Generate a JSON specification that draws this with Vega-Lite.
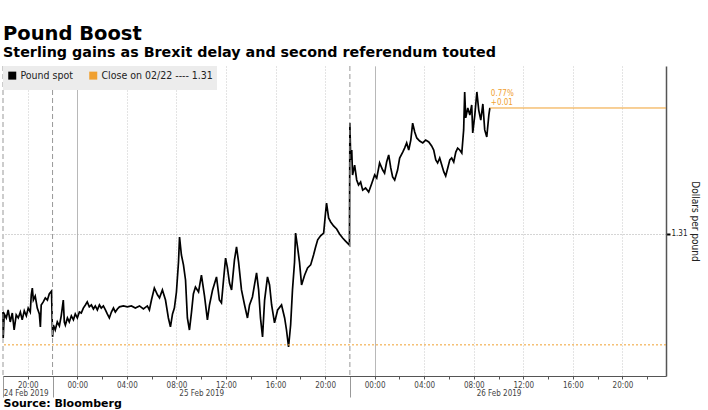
{
  "$schema": "https://vega.github.io/schema/vega-lite/v6.json",
  "width": 663,
  "height": 310,
  "autosize": "none",
  "padding": {"left": 3, "top": 66, "right": 42, "bottom": 34},
  "background": "white",
  "title": {
    "text": "Pound Boost",
    "subtitle": "Sterling gains as Brexit delay and second referendum touted",
    "anchor": "start",
    "frame": "group",
    "font": "DejaVu Sans",
    "fontWeight": "bold",
    "fontSize": 19.5,
    "color": "black",
    "subtitleFont": "DejaVu Sans",
    "subtitleFontWeight": "bold",
    "subtitleFontSize": 14.3,
    "subtitleColor": "black",
    "subtitlePadding": 2,
    "offset": 4
  },
  "config": {"view": {"stroke": null}},
  "datasets": {
    "spot": [
      {"t": "2019-02-24T18:00:00Z", "v": 1.30669},
      {"t": "2019-02-24T18:01:00Z", "v": 1.30559},
      {"t": "2019-02-24T18:06:00Z", "v": 1.30661},
      {"t": "2019-02-24T18:16:00Z", "v": 1.30644},
      {"t": "2019-02-24T18:25:00Z", "v": 1.30678},
      {"t": "2019-02-24T18:35:00Z", "v": 1.30627},
      {"t": "2019-02-24T18:45:00Z", "v": 1.30665},
      {"t": "2019-02-24T18:54:00Z", "v": 1.30593},
      {"t": "2019-02-24T19:04:00Z", "v": 1.30657},
      {"t": "2019-02-24T19:14:00Z", "v": 1.30644},
      {"t": "2019-02-24T19:24:00Z", "v": 1.30669},
      {"t": "2019-02-24T19:33:00Z", "v": 1.30636},
      {"t": "2019-02-24T19:43:00Z", "v": 1.30674},
      {"t": "2019-02-24T19:53:00Z", "v": 1.30653},
      {"t": "2019-02-24T20:02:00Z", "v": 1.30686},
      {"t": "2019-02-24T20:12:00Z", "v": 1.30669},
      {"t": "2019-02-24T20:17:00Z", "v": 1.30742},
      {"t": "2019-02-24T20:22:00Z", "v": 1.30771},
      {"t": "2019-02-24T20:27:00Z", "v": 1.30720},
      {"t": "2019-02-24T20:36:00Z", "v": 1.30737},
      {"t": "2019-02-24T20:46:00Z", "v": 1.30686},
      {"t": "2019-02-24T20:56:00Z", "v": 1.30661},
      {"t": "2019-02-24T21:01:00Z", "v": 1.30606},
      {"t": "2019-02-24T21:05:00Z", "v": 1.30699},
      {"t": "2019-02-24T21:15:00Z", "v": 1.30712},
      {"t": "2019-02-24T21:25:00Z", "v": 1.30729},
      {"t": "2019-02-24T21:35:00Z", "v": 1.30720},
      {"t": "2019-02-24T21:44:00Z", "v": 1.30746},
      {"t": "2019-02-24T21:55:00Z", "v": 1.30758},
      {"t": "2019-02-24T22:00:00Z", "v": 1.30564},
      {"t": "2019-02-24T22:04:00Z", "v": 1.30614},
      {"t": "2019-02-24T22:13:00Z", "v": 1.30593},
      {"t": "2019-02-24T22:23:00Z", "v": 1.30627},
      {"t": "2019-02-24T22:33:00Z", "v": 1.30610},
      {"t": "2019-02-24T22:42:00Z", "v": 1.30653},
      {"t": "2019-02-24T22:52:00Z", "v": 1.30720},
      {"t": "2019-02-24T22:57:00Z", "v": 1.30627},
      {"t": "2019-02-24T23:02:00Z", "v": 1.30614},
      {"t": "2019-02-24T23:12:00Z", "v": 1.30644},
      {"t": "2019-02-24T23:21:00Z", "v": 1.30627},
      {"t": "2019-02-24T23:31:00Z", "v": 1.30653},
      {"t": "2019-02-24T23:41:00Z", "v": 1.30636},
      {"t": "2019-02-24T23:50:00Z", "v": 1.30661},
      {"t": "2019-02-25T00:00:00Z", "v": 1.30644},
      {"t": "2019-02-25T00:10:00Z", "v": 1.30669},
      {"t": "2019-02-25T00:19:00Z", "v": 1.30665},
      {"t": "2019-02-25T00:29:00Z", "v": 1.30686},
      {"t": "2019-02-25T00:39:00Z", "v": 1.30699},
      {"t": "2019-02-25T00:48:00Z", "v": 1.30712},
      {"t": "2019-02-25T00:58:00Z", "v": 1.30691},
      {"t": "2019-02-25T01:08:00Z", "v": 1.30699},
      {"t": "2019-02-25T01:18:00Z", "v": 1.30682},
      {"t": "2019-02-25T01:27:00Z", "v": 1.30695},
      {"t": "2019-02-25T01:37:00Z", "v": 1.30678},
      {"t": "2019-02-25T01:47:00Z", "v": 1.30699},
      {"t": "2019-02-25T01:56:00Z", "v": 1.30686},
      {"t": "2019-02-25T02:06:00Z", "v": 1.30695},
      {"t": "2019-02-25T02:16:00Z", "v": 1.30678},
      {"t": "2019-02-25T02:25:00Z", "v": 1.30661},
      {"t": "2019-02-25T02:35:00Z", "v": 1.30644},
      {"t": "2019-02-25T02:45:00Z", "v": 1.30669},
      {"t": "2019-02-25T02:55:00Z", "v": 1.30686},
      {"t": "2019-02-25T03:04:00Z", "v": 1.30669},
      {"t": "2019-02-25T03:14:00Z", "v": 1.30682},
      {"t": "2019-02-25T03:24:00Z", "v": 1.30691},
      {"t": "2019-02-25T03:43:00Z", "v": 1.30695},
      {"t": "2019-02-25T04:02:00Z", "v": 1.30691},
      {"t": "2019-02-25T04:22:00Z", "v": 1.30695},
      {"t": "2019-02-25T04:41:00Z", "v": 1.30686},
      {"t": "2019-02-25T05:01:00Z", "v": 1.30695},
      {"t": "2019-02-25T05:20:00Z", "v": 1.30682},
      {"t": "2019-02-25T05:39:00Z", "v": 1.30695},
      {"t": "2019-02-25T05:49:00Z", "v": 1.30678},
      {"t": "2019-02-25T05:59:00Z", "v": 1.30720},
      {"t": "2019-02-25T06:13:00Z", "v": 1.30771},
      {"t": "2019-02-25T06:28:00Z", "v": 1.30742},
      {"t": "2019-02-25T06:38:00Z", "v": 1.30729},
      {"t": "2019-02-25T06:52:00Z", "v": 1.30763},
      {"t": "2019-02-25T07:07:00Z", "v": 1.30720},
      {"t": "2019-02-25T07:21:00Z", "v": 1.30644},
      {"t": "2019-02-25T07:31:00Z", "v": 1.30606},
      {"t": "2019-02-25T07:41:00Z", "v": 1.30661},
      {"t": "2019-02-25T07:50:00Z", "v": 1.30686},
      {"t": "2019-02-25T08:00:00Z", "v": 1.30754},
      {"t": "2019-02-25T08:10:00Z", "v": 1.30881},
      {"t": "2019-02-25T08:15:00Z", "v": 1.30987},
      {"t": "2019-02-25T08:24:00Z", "v": 1.30911},
      {"t": "2019-02-25T08:34:00Z", "v": 1.30869},
      {"t": "2019-02-25T08:44:00Z", "v": 1.30805},
      {"t": "2019-02-25T08:53:00Z", "v": 1.30644},
      {"t": "2019-02-25T09:03:00Z", "v": 1.30593},
      {"t": "2019-02-25T09:13:00Z", "v": 1.30669},
      {"t": "2019-02-25T09:22:00Z", "v": 1.30746},
      {"t": "2019-02-25T09:32:00Z", "v": 1.30775},
      {"t": "2019-02-25T09:47:00Z", "v": 1.30754},
      {"t": "2019-02-25T10:01:00Z", "v": 1.30826},
      {"t": "2019-02-25T10:16:00Z", "v": 1.30737},
      {"t": "2019-02-25T10:30:00Z", "v": 1.30636},
      {"t": "2019-02-25T10:40:00Z", "v": 1.30699},
      {"t": "2019-02-25T10:55:00Z", "v": 1.30763},
      {"t": "2019-02-25T11:14:00Z", "v": 1.30818},
      {"t": "2019-02-25T11:28:00Z", "v": 1.30720},
      {"t": "2019-02-25T11:38:00Z", "v": 1.30708},
      {"t": "2019-02-25T11:48:00Z", "v": 1.30805},
      {"t": "2019-02-25T11:58:00Z", "v": 1.30898},
      {"t": "2019-02-25T12:07:00Z", "v": 1.30856},
      {"t": "2019-02-25T12:17:00Z", "v": 1.30792},
      {"t": "2019-02-25T12:27:00Z", "v": 1.30763},
      {"t": "2019-02-25T12:41:00Z", "v": 1.30890},
      {"t": "2019-02-25T12:51:00Z", "v": 1.30945},
      {"t": "2019-02-25T13:01:00Z", "v": 1.30881},
      {"t": "2019-02-25T13:15:00Z", "v": 1.30763},
      {"t": "2019-02-25T13:30:00Z", "v": 1.30699},
      {"t": "2019-02-25T13:44:00Z", "v": 1.30644},
      {"t": "2019-02-25T13:54:00Z", "v": 1.30699},
      {"t": "2019-02-25T14:08:00Z", "v": 1.30733},
      {"t": "2019-02-25T14:18:00Z", "v": 1.30784},
      {"t": "2019-02-25T14:28:00Z", "v": 1.30835},
      {"t": "2019-02-25T14:38:00Z", "v": 1.30763},
      {"t": "2019-02-25T14:47:00Z", "v": 1.30644},
      {"t": "2019-02-25T14:57:00Z", "v": 1.30564},
      {"t": "2019-02-25T15:07:00Z", "v": 1.30720},
      {"t": "2019-02-25T15:21:00Z", "v": 1.30818},
      {"t": "2019-02-25T15:31:00Z", "v": 1.30784},
      {"t": "2019-02-25T15:41:00Z", "v": 1.30699},
      {"t": "2019-02-25T15:55:00Z", "v": 1.30623},
      {"t": "2019-02-25T16:10:00Z", "v": 1.30678},
      {"t": "2019-02-25T16:29:00Z", "v": 1.30699},
      {"t": "2019-02-25T16:44:00Z", "v": 1.30644},
      {"t": "2019-02-25T16:53:00Z", "v": 1.30593},
      {"t": "2019-02-25T17:03:00Z", "v": 1.30521},
      {"t": "2019-02-25T17:13:00Z", "v": 1.30614},
      {"t": "2019-02-25T17:22:00Z", "v": 1.30763},
      {"t": "2019-02-25T17:32:00Z", "v": 1.30881},
      {"t": "2019-02-25T17:37:00Z", "v": 1.31004},
      {"t": "2019-02-25T17:47:00Z", "v": 1.30941},
      {"t": "2019-02-25T17:56:00Z", "v": 1.30881},
      {"t": "2019-02-25T18:06:00Z", "v": 1.30784},
      {"t": "2019-02-25T18:21:00Z", "v": 1.30826},
      {"t": "2019-02-25T18:35:00Z", "v": 1.30856},
      {"t": "2019-02-25T18:50:00Z", "v": 1.30869},
      {"t": "2019-02-25T19:04:00Z", "v": 1.30911},
      {"t": "2019-02-25T19:14:00Z", "v": 1.30945},
      {"t": "2019-02-25T19:24:00Z", "v": 1.30975},
      {"t": "2019-02-25T19:38:00Z", "v": 1.30992},
      {"t": "2019-02-25T19:53:00Z", "v": 1.31004},
      {"t": "2019-02-25T20:02:00Z", "v": 1.31089},
      {"t": "2019-02-25T20:07:00Z", "v": 1.31131},
      {"t": "2019-02-25T20:17:00Z", "v": 1.31068},
      {"t": "2019-02-25T20:27:00Z", "v": 1.31051},
      {"t": "2019-02-25T20:41:00Z", "v": 1.31034},
      {"t": "2019-02-25T20:56:00Z", "v": 1.31021},
      {"t": "2019-02-25T21:10:00Z", "v": 1.31000},
      {"t": "2019-02-25T21:25:00Z", "v": 1.30983},
      {"t": "2019-02-25T21:39:00Z", "v": 1.30970},
      {"t": "2019-02-25T21:58:00Z", "v": 1.30953},
      {"t": "2019-02-25T22:00:00Z", "v": 1.31470},
      {"t": "2019-02-25T22:04:00Z", "v": 1.31314},
      {"t": "2019-02-25T22:09:00Z", "v": 1.31356},
      {"t": "2019-02-25T22:13:00Z", "v": 1.31250},
      {"t": "2019-02-25T22:23:00Z", "v": 1.31292},
      {"t": "2019-02-25T22:33:00Z", "v": 1.31229},
      {"t": "2019-02-25T22:42:00Z", "v": 1.31208},
      {"t": "2019-02-25T22:52:00Z", "v": 1.31220},
      {"t": "2019-02-25T23:02:00Z", "v": 1.31186},
      {"t": "2019-02-25T23:16:00Z", "v": 1.31195},
      {"t": "2019-02-25T23:31:00Z", "v": 1.31178},
      {"t": "2019-02-25T23:45:00Z", "v": 1.31212},
      {"t": "2019-02-26T00:00:00Z", "v": 1.31250},
      {"t": "2019-02-26T00:10:00Z", "v": 1.31237},
      {"t": "2019-02-26T00:24:00Z", "v": 1.31301},
      {"t": "2019-02-26T00:39:00Z", "v": 1.31271},
      {"t": "2019-02-26T00:48:00Z", "v": 1.31258},
      {"t": "2019-02-26T00:58:00Z", "v": 1.31305},
      {"t": "2019-02-26T01:08:00Z", "v": 1.31335},
      {"t": "2019-02-26T01:18:00Z", "v": 1.31280},
      {"t": "2019-02-26T01:27:00Z", "v": 1.31242},
      {"t": "2019-02-26T01:37:00Z", "v": 1.31229},
      {"t": "2019-02-26T01:51:00Z", "v": 1.31271},
      {"t": "2019-02-26T02:01:00Z", "v": 1.31322},
      {"t": "2019-02-26T02:16:00Z", "v": 1.31347},
      {"t": "2019-02-26T02:25:00Z", "v": 1.31364},
      {"t": "2019-02-26T02:35:00Z", "v": 1.31386},
      {"t": "2019-02-26T02:45:00Z", "v": 1.31356},
      {"t": "2019-02-26T02:55:00Z", "v": 1.31398},
      {"t": "2019-02-26T03:04:00Z", "v": 1.31470},
      {"t": "2019-02-26T03:14:00Z", "v": 1.31432},
      {"t": "2019-02-26T03:24:00Z", "v": 1.31407},
      {"t": "2019-02-26T03:38:00Z", "v": 1.31394},
      {"t": "2019-02-26T03:53:00Z", "v": 1.31386},
      {"t": "2019-02-26T04:07:00Z", "v": 1.31398},
      {"t": "2019-02-26T04:22:00Z", "v": 1.31390},
      {"t": "2019-02-26T04:36:00Z", "v": 1.31373},
      {"t": "2019-02-26T04:46:00Z", "v": 1.31356},
      {"t": "2019-02-26T04:56:00Z", "v": 1.31314},
      {"t": "2019-02-26T05:05:00Z", "v": 1.31301},
      {"t": "2019-02-26T05:15:00Z", "v": 1.31322},
      {"t": "2019-02-26T05:25:00Z", "v": 1.31292},
      {"t": "2019-02-26T05:35:00Z", "v": 1.31263},
      {"t": "2019-02-26T05:44:00Z", "v": 1.31246},
      {"t": "2019-02-26T05:54:00Z", "v": 1.31280},
      {"t": "2019-02-26T06:04:00Z", "v": 1.31314},
      {"t": "2019-02-26T06:13:00Z", "v": 1.31322},
      {"t": "2019-02-26T06:23:00Z", "v": 1.31305},
      {"t": "2019-02-26T06:33:00Z", "v": 1.31347},
      {"t": "2019-02-26T06:42:00Z", "v": 1.31364},
      {"t": "2019-02-26T06:52:00Z", "v": 1.31356},
      {"t": "2019-02-26T07:02:00Z", "v": 1.31343},
      {"t": "2019-02-26T07:11:00Z", "v": 1.31441},
      {"t": "2019-02-26T07:16:00Z", "v": 1.31602},
      {"t": "2019-02-26T07:21:00Z", "v": 1.31492},
      {"t": "2019-02-26T07:31:00Z", "v": 1.31534},
      {"t": "2019-02-26T07:41:00Z", "v": 1.31504},
      {"t": "2019-02-26T07:50:00Z", "v": 1.31547},
      {"t": "2019-02-26T07:55:00Z", "v": 1.31428},
      {"t": "2019-02-26T08:05:00Z", "v": 1.31504},
      {"t": "2019-02-26T08:15:00Z", "v": 1.31602},
      {"t": "2019-02-26T08:24:00Z", "v": 1.31525},
      {"t": "2019-02-26T08:34:00Z", "v": 1.31483},
      {"t": "2019-02-26T08:44:00Z", "v": 1.31551},
      {"t": "2019-02-26T08:53:00Z", "v": 1.31441},
      {"t": "2019-02-26T09:03:00Z", "v": 1.31411},
      {"t": "2019-02-26T09:13:00Z", "v": 1.31504},
      {"t": "2019-02-26T09:18:00Z", "v": 1.31534}
    ],
    "close": [{"v": 1.3053}],
    "sessions": [{"t": "2019-02-24T18:00:00Z"}, {"t": "2019-02-24T22:00:00Z"}, {"t": "2019-02-25T22:00:00Z"}],
    "last": [{"t": "2019-02-26T09:18:00Z", "t2": "2019-02-26T23:31:00Z", "v": 1.31534, "pct": "0.77%", "chg": "+0.01"}]
  },
  "resolve": {"scale": {"x": "independent"}, "axis": {"x": "independent"}},
  "layer": [
    {
      "layer": [
        {
          "data": {"name": "spot"},
          "mark": {"type": "line", "strokeWidth": 1.7},
          "encoding": {
            "x": {
              "field": "t",
              "type": "temporal",
              "scale": {
                "type": "utc",
                "domain": [
                  {"year": 2019, "month": 2, "date": 24, "hours": 18, "minutes": 0, "utc": true},
                  {"year": 2019, "month": 2, "date": 26, "hours": 23, "minutes": 31, "utc": true}
                ]
              },
              "axis": {
                "orient": "bottom",
                "title": null,
                "tickCount": 60,
                "values": [
                  {"year": 2019, "month": 2, "date": 24, "hours": 18, "utc": true},
                  {"year": 2019, "month": 2, "date": 24, "hours": 20, "utc": true},
                  {"year": 2019, "month": 2, "date": 24, "hours": 22, "utc": true},
                  {"year": 2019, "month": 2, "date": 25, "hours": 0, "utc": true},
                  {"year": 2019, "month": 2, "date": 25, "hours": 2, "utc": true},
                  {"year": 2019, "month": 2, "date": 25, "hours": 4, "utc": true},
                  {"year": 2019, "month": 2, "date": 25, "hours": 6, "utc": true},
                  {"year": 2019, "month": 2, "date": 25, "hours": 8, "utc": true},
                  {"year": 2019, "month": 2, "date": 25, "hours": 10, "utc": true},
                  {"year": 2019, "month": 2, "date": 25, "hours": 12, "utc": true},
                  {"year": 2019, "month": 2, "date": 25, "hours": 14, "utc": true},
                  {"year": 2019, "month": 2, "date": 25, "hours": 16, "utc": true},
                  {"year": 2019, "month": 2, "date": 25, "hours": 18, "utc": true},
                  {"year": 2019, "month": 2, "date": 25, "hours": 20, "utc": true},
                  {"year": 2019, "month": 2, "date": 25, "hours": 22, "utc": true},
                  {"year": 2019, "month": 2, "date": 26, "hours": 0, "utc": true},
                  {"year": 2019, "month": 2, "date": 26, "hours": 2, "utc": true},
                  {"year": 2019, "month": 2, "date": 26, "hours": 4, "utc": true},
                  {"year": 2019, "month": 2, "date": 26, "hours": 6, "utc": true},
                  {"year": 2019, "month": 2, "date": 26, "hours": 8, "utc": true},
                  {"year": 2019, "month": 2, "date": 26, "hours": 10, "utc": true},
                  {"year": 2019, "month": 2, "date": 26, "hours": 12, "utc": true},
                  {"year": 2019, "month": 2, "date": 26, "hours": 14, "utc": true},
                  {"year": 2019, "month": 2, "date": 26, "hours": 16, "utc": true},
                  {"year": 2019, "month": 2, "date": 26, "hours": 18, "utc": true},
                  {"year": 2019, "month": 2, "date": 26, "hours": 20, "utc": true},
                  {"year": 2019, "month": 2, "date": 26, "hours": 22, "utc": true}
                ],
                "labelExpr": "indexof([0, 4, 8, 12, 16, 20], utchours(datum.value)) >= 0 ? utcFormat(datum.value, '%H:%M') : ''",
                "labelFont": "DejaVu Sans Condensed",
                "labelFontSize": 8,
                "labelColor": "#444",
                "labelPadding": 2,
                "labelOverlap": false,
                "domainColor": "#555",
                "tickSize": {"condition": {"test": "(utchours(datum.value) == 22 && utcdate(datum.value) < 26) || (utchours(datum.value) == 18 && utcdate(datum.value) == 24)", "value": 21}, "value": 3},
                "tickColor": {"condition": {"test": "(utchours(datum.value) == 22 && utcdate(datum.value) < 26) || (utchours(datum.value) == 18 && utcdate(datum.value) == 24)", "value": "#999"}, "value": "#555"},
                "grid": true,
                "gridOpacity": {"condition": {"test": "indexof([0, 4, 8, 12, 16, 20], utchours(datum.value)) >= 0", "value": 1}, "value": 0},
                "gridColor": {"condition": {"test": "utchours(datum.value) == 0", "value": "#a0a0a0"}, "value": "#c8c8c8"},
                "gridDash": {"condition": {"test": "utchours(datum.value) == 0", "value": [1, 0]}, "value": [1, 2]}
              }
            },
            "y": {
              "field": "v",
              "type": "quantitative",
              "scale": {"domain": [1.30398, 1.31712], "nice": false, "zero": false},
              "axis": {
                "orient": "right",
                "values": [1.31],
                "format": ".2f",
                "title": "Dollars per pound",
                "titleAngle": 90,
                "titleFont": "DejaVu Sans Condensed",
                "titleFontSize": 10,
                "titleFontWeight": "normal",
                "titleColor": "#222",
                "titlePadding": 2,
                "labelFont": "DejaVu Sans Condensed",
                "labelFontSize": 8,
                "labelColor": "#222",
                "labelPadding": 1,
                "domainColor": "#555",
                "domainWidth": 1.5,
                "tickSize": 4,
                "tickWidth": 2,
                "tickColor": "#000",
                "grid": true,
                "gridColor": "#aaa",
                "gridDash": [1, 2]
              }
            },
            "color": {
              "datum": "Pound spot",
              "type": "nominal",
              "scale": {"domain": ["Pound spot", "Close on 02/22 ---- 1.31"], "range": ["#000000", "#f0a030"]},
              "legend": {
                "title": null,
                "orient": "top-left",
                "direction": "horizontal",
                "offset": 0,
                "padding": 4,
                "fillColor": "#ececec",
                "symbolType": "square",
                "symbolSize": 16,
                "symbolStrokeWidth": 4,
                "labelFont": "DejaVu Sans Condensed",
                "labelFontSize": 10.5,
                "labelColor": "#222",
                "labelOffset": 3,
                "columnPadding": 10
              }
            }
          }
        },
        {
          "data": {"name": "close"},
          "mark": {"type": "rule", "strokeDash": [2, 2], "strokeWidth": 1},
          "encoding": {
            "y": {"field": "v", "type": "quantitative"},
            "color": {"datum": "Close on 02/22 ---- 1.31", "type": "nominal"}
          }
        },
        {
          "data": {"name": "last"},
          "mark": {"type": "rule", "color": "#f0a030", "strokeWidth": 1},
          "encoding": {
            "x": {"field": "t", "type": "temporal"},
            "x2": {"field": "t2"},
            "y": {"field": "v", "type": "quantitative"}
          }
        },
        {
          "data": {"name": "last"},
          "mark": {"type": "text", "align": "left", "baseline": "bottom", "dx": 1, "dy": -10, "font": "DejaVu Sans Condensed", "fontSize": 8, "color": "#f0a030"},
          "encoding": {
            "x": {"field": "t", "type": "temporal"},
            "y": {"field": "v", "type": "quantitative"},
            "text": {"field": "pct", "type": "nominal"}
          }
        },
        {
          "data": {"name": "last"},
          "mark": {"type": "text", "align": "left", "baseline": "bottom", "dx": 1, "dy": -1, "font": "DejaVu Sans Condensed", "fontSize": 8, "color": "#f0a030"},
          "encoding": {
            "x": {"field": "t", "type": "temporal"},
            "y": {"field": "v", "type": "quantitative"},
            "text": {"field": "chg", "type": "nominal"}
          }
        }
      ]
    },
    {
      "data": {"name": "sessions"},
      "mark": {"type": "rule", "color": "#999", "strokeDash": [5, 3], "strokeWidth": 1},
      "encoding": {
        "x": {
          "field": "t",
          "type": "temporal",
          "scale": {
            "type": "utc",
            "domain": [
              {"year": 2019, "month": 2, "date": 24, "hours": 18, "minutes": 0, "utc": true},
              {"year": 2019, "month": 2, "date": 26, "hours": 23, "minutes": 31, "utc": true}
            ]
          },
          "axis": {
            "orient": "bottom",
            "tickCount": 10,
            "values": [
              {"year": 2019, "month": 2, "date": 24, "hours": 19, "minutes": 50, "utc": true},
              {"year": 2019, "month": 2, "date": 25, "hours": 10, "utc": true},
              {"year": 2019, "month": 2, "date": 26, "hours": 10, "utc": true}
            ],
            "labelExpr": "utcFormat(datum.value, '%d %b %Y')",
            "labelFont": "DejaVu Sans Condensed",
            "labelFontSize": 8,
            "labelColor": "#444",
            "labelPadding": 13,
            "labelOverlap": false,
            "labelFlush": false,
            "domain": false,
            "ticks": false,
            "grid": false,
            "title": "Source: Bloomberg",
            "titleAnchor": "start",
            "titleAlign": "left",
            "titleFont": "DejaVu Sans",
            "titleFontWeight": "bold",
            "titleFontSize": 11,
            "titleColor": "black",
            "titlePadding": 0
          }
        }
      }
    }
  ]
}
